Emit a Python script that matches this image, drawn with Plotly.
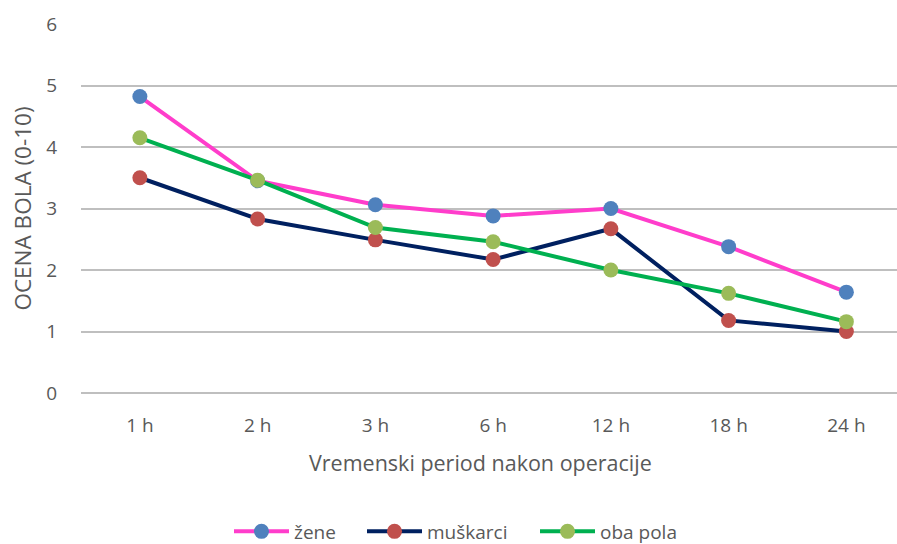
import plotly.graph_objects as go

# Time points after surgery and mean pain scores per group
periods = ["1 h", "2 h", "3 h", "6 h", "12 h", "18 h", "24 h"]
zene = [4.82, 3.45, 3.06, 2.88, 3.0, 2.38, 1.64]
muskarci = [3.5, 2.83, 2.49, 2.17, 2.67, 1.18, 1.0]
oba_pola = [4.15, 3.46, 2.69, 2.46, 2.0, 1.62, 1.16]

series = [
    ("žene", zene, "#FF3DCB", "#4F81BD"),
    ("muškarci", muskarci, "#002060", "#C0504D"),
    ("oba pola", oba_pola, "#00B050", "#9BBB59"),
]

font_family = "Open Sans, Liberation Sans, sans-serif"
grey = "#595959"
W, H = 897, 544

# one legend box per series so the entries can be spaced along the bottom row
legend_ids = ["legend", "legend2", "legend3"]
legend_left_px = [229, 362, 535]

fig = go.Figure()
for (name, values, line_color, marker_color), lid in zip(series, legend_ids):
    fig.add_trace(go.Scatter(
        x=periods,
        y=values,
        name=name,
        legend=lid,
        mode="lines+markers",
        line=dict(color=line_color, width=4),
        marker=dict(color=marker_color, size=15, line=dict(width=0)),
    ))

legend_style = dict(
    orientation="h",
    xref="container",
    xanchor="left",
    y=0.023,
    yref="container",
    yanchor="middle",
    font=dict(size=19, color=grey),
    itemwidth=55,
    bgcolor="rgba(0,0,0,0)",
)

fig.update_layout(
    width=W,
    height=H,
    margin=dict(l=81, r=0, t=24, b=151),
    paper_bgcolor="white",
    plot_bgcolor="white",
    font=dict(family=font_family, color=grey, size=19),
    showlegend=True,
    annotations=[dict(
        text="Vremenski period nakon operacije",
        xref="paper", yref="paper",
        x=(480 - 81) / 816, y=-70 / 369,
        xanchor="center", yanchor="middle",
        showarrow=False,
        font=dict(size=21.5, color=grey),
    )],
)
for lid, left in zip(legend_ids, legend_left_px):
    fig.update_layout({lid: dict(legend_style, x=left / W)})

fig.update_xaxes(
    type="category",
    range=[-0.5, 6.43],
    showgrid=False,
    showline=False,
    zeroline=False,
    ticks="",
    ticklabelstandoff=19,
    tickfont=dict(size=19, color=grey),
)

fig.update_yaxes(
    range=[0, 6],
    dtick=1,
    showgrid=True,
    gridcolor="#BFBFBF",
    gridwidth=1.5,
    showline=False,
    zeroline=True,
    zerolinecolor="#BFBFBF",
    zerolinewidth=1.5,
    ticks="",
    ticklabelstandoff=23,
    tickfont=dict(size=19, color=grey),
    title=dict(text="OCENA BOLA (0-10)", font=dict(size=22.5, color=grey), standoff=8),
)

fig.write_html("out.html")
